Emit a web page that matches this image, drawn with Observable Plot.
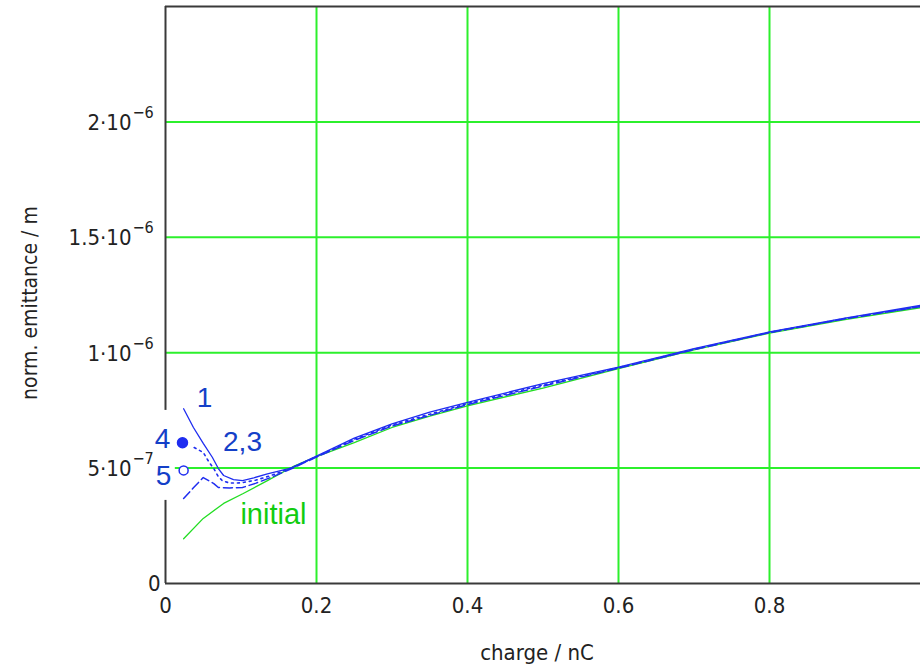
<!DOCTYPE html>
<html>
<head>
<meta charset="utf-8">
<script src="https://cdn.jsdelivr.net/npm/d3@7"></script>
<script src="https://cdn.jsdelivr.net/npm/@observablehq/plot@0.6"></script>
<style>
  html, body { margin: 0; padding: 0; background: #fff; }
  svg { display: block; }
</style>
</head>
<body>
<div id="chart"></div>
<script>
// ---- data (charge in nC, normalized emittance in m) ----
const initialQ    = [0.024, 0.05, 0.077, 0.103, 0.135, 0.168, 0.2, 0.25, 0.3, 0.35, 0.4, 0.5, 0.6, 0.7, 0.8, 0.9, 1.0];
const initialEmit = [1.94e-7, 2.82e-7, 3.47e-7, 3.90e-7, 4.46e-7, 5.05e-7, 5.50e-7, 6.10e-7, 6.76e-7, 7.25e-7, 7.70e-7, 8.47e-7, 9.31e-7, 1.012e-6, 1.085e-6, 1.143e-6, 1.195e-6];

const run1Q    = [0.024, 0.037, 0.05, 0.062, 0.07, 0.077, 0.09, 0.102, 0.117, 0.135, 0.166, 0.2, 0.25, 0.3, 0.35, 0.4, 0.5, 0.6, 0.7, 0.8, 0.9, 1.0];
const run1Emit = [7.57e-7, 6.76e-7, 6.07e-7, 5.47e-7, 4.98e-7, 4.68e-7, 4.50e-7, 4.46e-7, 4.58e-7, 4.75e-7, 5.00e-7, 5.52e-7, 6.30e-7, 6.92e-7, 7.42e-7, 7.85e-7, 8.66e-7, 9.38e-7, 1.018e-6, 1.090e-6, 1.150e-6, 1.205e-6];

const run2Q    = [0.038, 0.05, 0.058, 0.064, 0.069, 0.075, 0.085, 0.1, 0.12, 0.14, 0.17, 0.2, 0.25, 0.3, 0.4, 0.5, 0.6, 0.7, 0.8, 0.9, 1.0];
const run2Emit = [5.89e-7, 5.68e-7, 5.24e-7, 4.98e-7, 4.68e-7, 4.46e-7, 4.35e-7, 4.36e-7, 4.48e-7, 4.68e-7, 5.05e-7, 5.50e-7, 6.25e-7, 6.87e-7, 7.80e-7, 8.60e-7, 9.35e-7, 1.015e-6, 1.088e-6, 1.148e-6, 1.200e-6];

const run3Q    = [0.024, 0.037, 0.05, 0.064, 0.07, 0.085, 0.102, 0.12, 0.14, 0.17, 0.2, 0.25, 0.3, 0.4, 0.5, 0.6, 0.7, 0.8, 0.9, 1.0];
const run3Emit = [3.68e-7, 4.15e-7, 4.59e-7, 4.33e-7, 4.16e-7, 4.14e-7, 4.16e-7, 4.35e-7, 4.60e-7, 5.02e-7, 5.48e-7, 6.20e-7, 6.82e-7, 7.75e-7, 8.55e-7, 9.33e-7, 1.013e-6, 1.087e-6, 1.147e-6, 1.200e-6];

const filledMarkerQ = [0.0225], filledMarkerEmit = [6.1e-7];
const openMarkerQ   = [0.024],  openMarkerEmit   = [4.9e-7];

const annoText = ["1", "4", "2,3", "5"];
const annoQ    = [0.0517, -0.004, 0.102, -0.0026];
const annoEmit = [8.02e-7, 6.28e-7, 6.15e-7, 4.64e-7];
const initialLabel = ["initial"], initialLabelQ = [0.143], initialLabelEmit = [2.99e-7];

const xTickValues = [0, 0.2, 0.4, 0.6, 0.8];
const xTickLabels = ["0", "0.2", "0.4", "0.6", "0.8"];
const yTickValues   = [5e-7, 1e-6, 1.5e-6, 2e-6];
const yTickMantissa = ["5", "1", "1.5", "2"];
const yTickExponent = ["\u22127", "\u22126", "\u22126", "\u22126"];
const xGrid = [0.2, 0.4, 0.6, 0.8];
const yGrid = [5e-7, 1e-6, 1.5e-6, 2e-6];

// ---- build tables ----
const toRows = (qs, es) => qs.map((q, i) => ({q, e: es[i]}));
const initialRows = toRows(initialQ, initialEmit);
const run1Rows = toRows(run1Q, run1Emit);
const run2Rows = toRows(run2Q, run2Emit);
const run3Rows = toRows(run3Q, run3Emit);
const annoRows = annoText.map((t, i) => ({t, q: annoQ[i], e: annoEmit[i]}));
const yTickRows = yTickValues.map((v, i) => ({v, m: yTickMantissa[i] + "\u00b710", x: yTickExponent[i]}));
const xTickRows = xTickValues.map((v, i) => ({v, t: xTickLabels[i]}));

const FONT = "'Liberation Sans Narrow', 'DejaVu Sans Condensed', 'Liberation Sans', sans-serif";
const GRID = "#2cf02c";
const BLUE = "#1f2df0";
const LABEL_BLUE = "#1440c8";
const GREEN = "#22dd22";
const AXIS = "#3a3a3a";

const chart = Plot.plot({
  width: 920,
  height: 666,
  marginLeft: 165,
  marginRight: 0,
  marginTop: 6,
  marginBottom: 83,
  x: {domain: [0, 1], axis: null},
  y: {domain: [0, 2.5e-6], axis: null},
  style: {fontFamily: FONT, background: "#fff", overflow: "visible"},
  marks: [
    Plot.ruleX(xGrid, {stroke: GRID, strokeWidth: 2}),
    Plot.ruleY(yGrid, {stroke: GRID, strokeWidth: 2}),
    // frame: left, top, bottom only (right edge is outside the picture)
    Plot.ruleX([0], {stroke: AXIS, strokeWidth: 2}),
    Plot.ruleY([0, 2.5e-6], {stroke: AXIS, strokeWidth: 2}),
    // white patch behind the "4"/"5" labels
    Plot.rect([0], {x1: -0.017, x2: 0.013, y1: 3.6e-7, y2: 7.5e-7, fill: "#fff"}),
    Plot.line(initialRows, {x: "q", y: "e", stroke: GREEN, strokeWidth: 1.3}),
    Plot.line(run3Rows, {x: "q", y: "e", stroke: BLUE, strokeWidth: 1.5, strokeDasharray: "9,4"}),
    Plot.line(run2Rows, {x: "q", y: "e", stroke: BLUE, strokeWidth: 1.6, strokeDasharray: "2,4"}),
    Plot.line(run1Rows, {x: "q", y: "e", stroke: BLUE, strokeWidth: 1.3}),
    Plot.dot(filledMarkerQ, {x: d => d, y: (d, i) => filledMarkerEmit[i], r: 5, fill: BLUE, stroke: BLUE}),
    Plot.dot(openMarkerQ, {x: d => d, y: (d, i) => openMarkerEmit[i], r: 4.5, fill: "#fff", stroke: BLUE, strokeWidth: 1.5}),
    Plot.text(annoRows, {x: "q", y: "e", text: "t", fill: LABEL_BLUE, fontSize: 28, fontFamily: "'Liberation Sans', Arial, sans-serif"}),
    Plot.text(initialLabel, {x: initialLabelQ, y: initialLabelEmit, text: d => d, fill: "#11cc11", fontSize: 29, fontFamily: "'Liberation Sans', Arial, sans-serif"}),
    // y tick labels
    Plot.text(["0"], {x: 0, y: 0, text: d => d, textAnchor: "end", dx: -5, fontSize: 22, fill: "#222"}),
    Plot.text(yTickRows, {x: 0, y: "v", text: "m", textAnchor: "end", dx: -34, dy: 1, fontSize: 22, fill: "#222"}),
    Plot.text(yTickRows, {x: 0, y: "v", text: "x", textAnchor: "start", dx: -33, dy: -9, fontSize: 16, fill: "#222"}),
    // x tick labels
    Plot.text(xTickRows, {x: "v", y: 0, text: "t", dy: 22, fontSize: 22, fill: "#222"}),
    // axis titles
    Plot.text(["charge / nC"], {frameAnchor: "bottom", textAnchor: "middle", lineAnchor: "middle", dx: -6, dy: 69, text: d => d, fontSize: 22, fill: "#222"}),
    Plot.text(["norm. emittance / m"], {frameAnchor: "left", textAnchor: "middle", lineAnchor: "middle", dx: -135, dy: 8, rotate: -90, text: d => d, fontSize: 21, fill: "#222"})
  ]
});
document.getElementById("chart").appendChild(chart);
</script>
</body>
</html>
